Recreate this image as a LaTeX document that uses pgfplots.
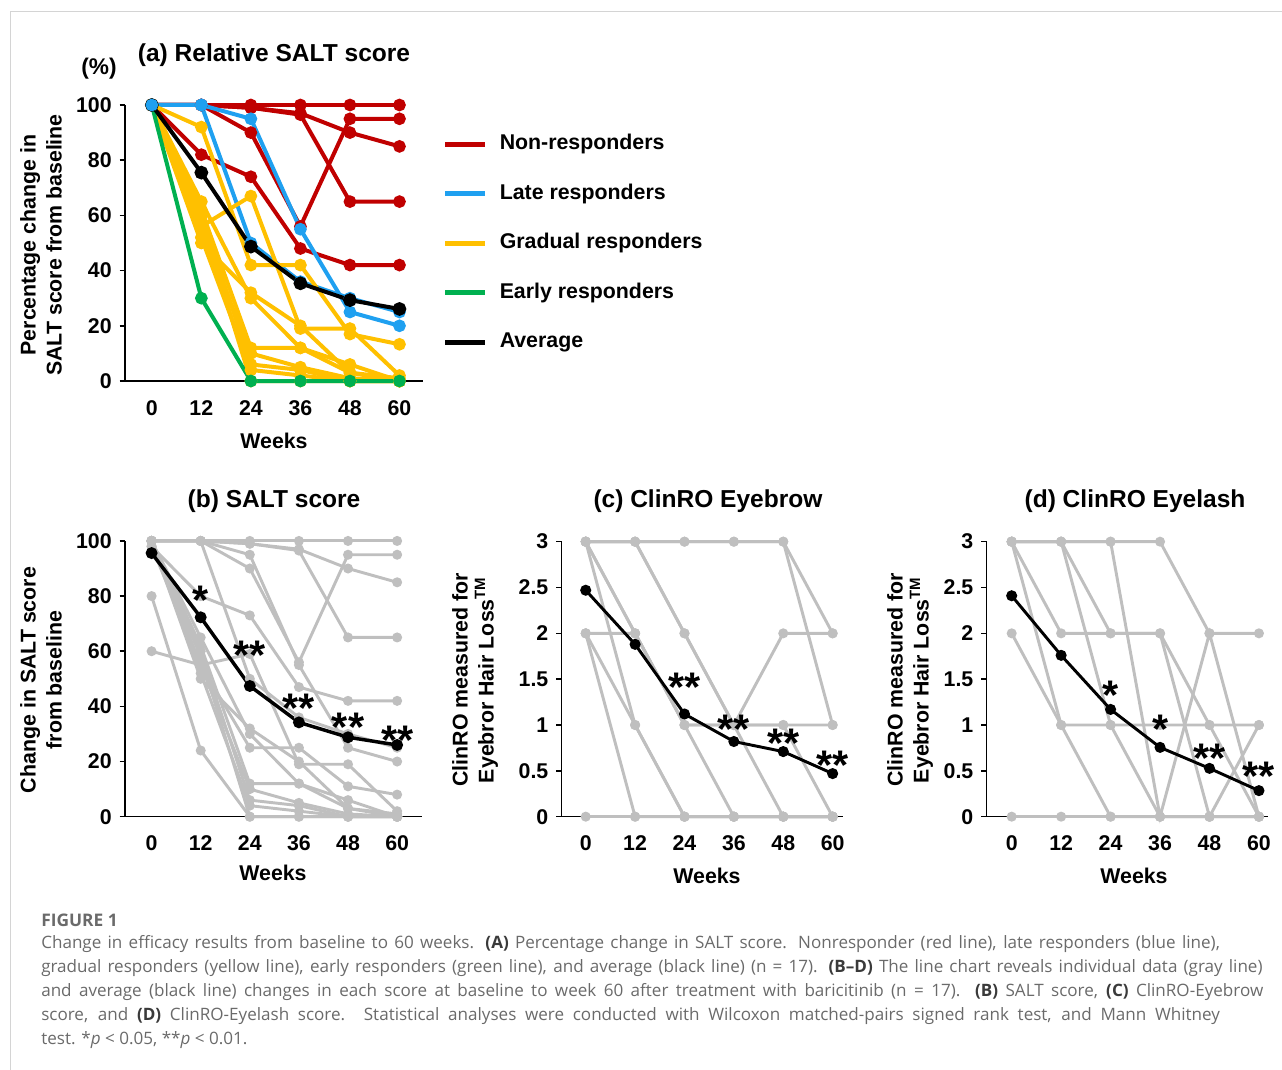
\documentclass[border=0pt]{standalone}
\usepackage{pgfplots}
\pgfplotsset{compat=1.18}
\usepackage{fontspec}
\setmainfont{Liberation Sans}
\newfontfamily\capfont{Open Sans}
\definecolor{cred}{HTML}{C00000}
\definecolor{cblue}{HTML}{1FA0F0}
\definecolor{cyellow}{HTML}{FFC000}
\definecolor{cgreen}{HTML}{00B050}
\definecolor{cgray}{HTML}{BFBFBF}
\definecolor{capgray}{HTML}{6A6A6A}
\definecolor{capdark}{HTML}{3A3A3A}
\definecolor{framegray}{HTML}{D4D4D4}

\pgfplotsset{
  panel/.style={set layers, scale only axis, clip=false,
    axis x line*=bottom, axis y line*=left,
    axis line style={line width=1.1pt, black},
    xtick={0,12,24,36,48,60}, xtick style={draw=none},
    ytick style={line width=1.1pt, black}, tick align=outside, major tick length=4pt,
    tick label style={font=\fontsize{16}{19}\selectfont\bfseries},
    /pgf/number format/assume math mode=true,
    xticklabel style={yshift=-7pt},
    yticklabel style={xshift=-2.5pt}},
  aline/.style={line width=3pt, mark=*, mark size=3.2pt, mark options={solid}, forget plot},
  gline/.style={color=cgray, line width=2.2pt, mark=*, mark size=2.6pt, mark options={solid}},
  bline/.style={color=black, line width=2.6pt, mark=*, mark size=3.1pt, mark options={solid}},
}
\tikzset{sigstar/.style={font=\fontsize{31}{31}\selectfont\bfseries, inner sep=0pt, anchor=center, yshift=-6.5pt},
  ttlnode/.style={font=\fontsize{18.4}{22}\selectfont\bfseries, inner sep=0pt},
  lblnode/.style={font=\fontsize{16}{19.5}\selectfont\bfseries, inner sep=0pt, align=center},
  captxt/.style={anchor=west, inner sep=0pt, text=capgray, font=\capfont\fontsize{12.8}{15}\selectfont}}
\newcommand{\B}[1]{\textcolor{capdark}{\bfseries #1}}

\begin{document}
\begin{tikzpicture}
\begin{scope}[x=0.75pt,y=-0.75pt]
\path[use as bounding box] (0,0) rectangle (1282,1070);
\draw[framegray, line width=0.75pt] (10,12) -- (1282,12);
\draw[framegray, line width=0.75pt] (10,12) -- (10,1070);
\end{scope}

% ---------------- (a) ----------------
\begin{axis}[panel, at={(93.75pt,-285.75pt)}, anchor=south west,
  width=223.5pt, height=207pt,
  xmin=-6.5, xmax=65.7, ymin=0, ymax=100, ytick={0,20,40,60,80,100},
  legend style={at={(axis description cs:1.0671,0.8975)}, anchor=north west,
    draw=none, fill=none, inner sep=0pt, outer sep=0pt, row sep=20.75pt,
    font=\fontsize{16}{19}\selectfont\bfseries,
    nodes={inner sep=0pt, text height=12pt, text depth=4pt}},
  legend cell align=left,
  legend image code/.code={\draw[line width=3.75pt] (0pt,0pt) -- (30pt,0pt); \path (0pt,-8pt) (40.5pt,8pt);}]
\addlegendimage{color=cred}
\addlegendimage{color=cblue}
\addlegendimage{color=cyellow}
\addlegendimage{color=cgreen}
\addlegendimage{color=black}
% non-responders
\addplot[aline, color=cred] coordinates {(0,100)(12,100)(24,100)(36,100)(48,100)(60,100)};
\addplot[aline, color=cred] coordinates {(0,100)(12,100)(24,99)(36,97)(48,90)(60,85)};
\addplot[aline, color=cred] coordinates {(0,100)(12,100)(24,99)(36,96.5)(48,65)(60,65)};
\addplot[aline, color=cred] coordinates {(0,100)(12,100)(24,90)(36,56)(48,95)(60,95)};
\addplot[aline, color=cred] coordinates {(0,100)(12,82)(24,74)(36,48)(48,42)(60,42)};
% late responders
\addplot[aline, color=cblue] coordinates {(0,100)(12,100)(24,95)(36,55)(48,25)(60,20)};
\addplot[aline, color=cblue] coordinates {(0,100)(12,100)(24,50)(36,36)(48,30)(60,25)};
% gradual responders
\addplot[aline, color=cyellow] coordinates {(0,100)(12,92)(24,42)(36,42)(48,17)(60,13.3)};
\addplot[aline, color=cyellow] coordinates {(0,100)(12,56)(24,67)(36,19)(48,19)(60,2)};
\addplot[aline, color=cyellow] coordinates {(0,100)(12,65)(24,30)(36,12)(48,6)(60,0)};
\addplot[aline, color=cyellow] coordinates {(0,100)(12,50)(24,32)(36,20)(48,3)(60,1)};
\addplot[aline, color=cyellow] coordinates {(0,100)(12,62)(24,12)(36,12)(48,3)(60,0)};
\addplot[aline, color=cyellow] coordinates {(0,100)(12,55)(24,10)(36,5)(48,1)(60,0)};
\addplot[aline, color=cyellow] coordinates {(0,100)(12,60)(24,6)(36,4)(48,0)(60,0)};
\addplot[aline, color=cyellow] coordinates {(0,100)(12,52)(24,4)(36,2)(48,0)(60,0)};
\addplot[aline, color=cyellow] coordinates {(0,100)(12,58)(24,0)(36,0)(48,0)(60,0)};
% early responders
\addplot[aline, color=cgreen] coordinates {(0,100)(12,30)(24,0)(36,0)(48,0)(60,0)};
% average
\addplot[aline, color=black, mark size=3.6pt] coordinates {(0,100)(12,75.5)(24,48.7)(36,35.4)(48,29.3)(60,26.1)};
% blue start point on top
\addplot[aline, color=cblue, only marks] coordinates {(0,100)(12,100)};
\legend{Non-responders, Late responders, Gradual responders, Early responders, Average}
\end{axis}

% ---------------- (b) ----------------
\begin{axis}[panel, at={(93.75pt,-612.5pt)}, anchor=south west,
  width=222.5pt, height=206.8pt,
  xmin=-6.5, xmax=66, ymin=0, ymax=100, ytick={0,20,40,60,80,100}]
\addplot[gline] coordinates {(0,100)(12,100)(24,100)(36,100)(48,100)(60,100)};
\addplot[gline] coordinates {(0,100)(12,100)(24,99)(36,97)(48,90)(60,85)};
\addplot[gline] coordinates {(0,100)(12,100)(24,99)(36,96.5)(48,65)(60,65)};
\addplot[gline] coordinates {(0,100)(12,100)(24,90)(36,56)(48,95)(60,95)};
\addplot[gline] coordinates {(0,98)(12,80)(24,73)(36,47)(48,42)(60,42)};
\addplot[gline] coordinates {(0,100)(12,100)(24,95)(36,55)(48,25)(60,20)};
\addplot[gline] coordinates {(0,100)(12,100)(24,50)(36,36)(48,30)(60,25)};
\addplot[gline] coordinates {(0,60)(12,55)(24,25)(36,25)(48,11)(60,8)};
\addplot[gline] coordinates {(0,98)(12,55)(24,59)(36,19)(48,19)(60,2)};
\addplot[gline] coordinates {(0,100)(12,65)(24,30)(36,12)(48,6)(60,0)};
\addplot[gline] coordinates {(0,100)(12,50)(24,32)(36,20)(48,3)(60,1)};
\addplot[gline] coordinates {(0,100)(12,62)(24,12)(36,12)(48,3)(60,0)};
\addplot[gline] coordinates {(0,100)(12,55)(24,10)(36,5)(48,1)(60,0)};
\addplot[gline] coordinates {(0,100)(12,60)(24,6)(36,4)(48,0)(60,0)};
\addplot[gline] coordinates {(0,100)(12,52)(24,4)(36,2)(48,0)(60,0)};
\addplot[gline] coordinates {(0,100)(12,58)(24,0)(36,0)(48,0)(60,0)};
\addplot[gline] coordinates {(0,80)(12,24)(24,0)(36,0)(48,0)(60,0)};
\addplot[bline] coordinates {(0,95.6)(12,72.3)(24,47.4)(36,34.2)(48,28.8)(60,26)};
\begin{pgfonlayer}{axis foreground}
\node[sigstar] at (axis cs:12,81.5) {*};
\node[sigstar] at (axis cs:24,61.5) {**};
\node[sigstar] at (axis cs:36,42.3) {**};
\node[sigstar] at (axis cs:48,35.5) {**};
\node[sigstar] at (axis cs:60,30.8) {**};
\end{pgfonlayer}
\end{axis}

% ---------------- (c) ----------------
\begin{axis}[panel, at={(421.3pt,-612.5pt)}, anchor=south west,
  width=211.2pt, height=206.25pt,
  xmin=-5.83, xmax=62.6, ymin=0, ymax=3, ytick={0,0.5,1,1.5,2,2.5,3}]
\addplot[gline] coordinates {(0,3)(12,3)(24,3)(36,3)(48,3)(60,2)};
\addplot[gline] coordinates {(0,3)(12,3)(24,3)(36,3)(48,3)(60,1)};
\addplot[gline] coordinates {(0,3)(12,3)(24,2)(36,1)(48,0)(60,0)};
\addplot[gline] coordinates {(0,3)(12,2)(24,1)(36,1)(48,1)(60,1)};
\addplot[gline] coordinates {(0,3)(12,1)(24,0)(36,0)(48,0)(60,0)};
\addplot[gline] coordinates {(0,2)(12,2)(24,1)(36,1)(48,2)(60,2)};
\addplot[gline] coordinates {(0,2)(12,1)(24,0)(36,0)(48,0)(60,0)};
\addplot[gline] coordinates {(0,2)(12,0)(24,0)(36,0)(48,0)(60,0)};
\addplot[gline] coordinates {(0,0)(12,0)(24,0)(36,0)(48,0)(60,0)};
\addplot[gline] coordinates {(0,3)(12,2)(24,1)(36,0)(48,0)(60,0)};
\addplot[gline] coordinates {(0,3)(12,3)(24,2)(36,1)(48,1)(60,0)};
\addplot[bline, line width=2.2pt, mark size=3pt] coordinates {(0,2.47)(12,1.88)(24,1.12)(36,0.82)(48,0.71)(60,0.47)};
\begin{pgfonlayer}{axis foreground}
\node[sigstar] at (axis cs:24,1.51) {**};
\node[sigstar] at (axis cs:36,1.05) {**};
\node[sigstar] at (axis cs:48,0.90) {**};
\node[sigstar] at (axis cs:60,0.66) {**};
\end{pgfonlayer}
\end{axis}

% ---------------- (d) ----------------
\begin{axis}[panel, at={(740pt,-612.5pt)}, anchor=south west,
  width=211pt, height=206.25pt,
  xmin=-6.07, xmax=62.2, ymin=0, ymax=3, ytick={0,0.5,1,1.5,2,2.5,3}]
\addplot[gline] coordinates {(0,3)(12,3)(24,3)(36,3)(48,2)(60,2)};
\addplot[gline] coordinates {(0,3)(12,3)(24,3)(36,0)(48,2)(60,0)};
\addplot[gline] coordinates {(0,3)(12,3)(24,2)(36,2)(48,1)(60,1)};
\addplot[gline] coordinates {(0,3)(12,3)(24,1)(36,0)(48,0)(60,1)};
\addplot[gline] coordinates {(0,3)(12,1)(24,1)(36,1)(48,1)(60,0)};
\addplot[gline] coordinates {(0,2)(12,1)(24,0)(36,0)(48,0)(60,0)};
\addplot[gline] coordinates {(0,0)(12,0)(24,0)(36,0)(48,0)(60,0)};
\addplot[gline] coordinates {(0,3)(12,2)(24,2)(36,2)(48,0)(60,0)};
\addplot[bline, line width=2.2pt, mark size=3pt] coordinates {(0,2.41)(12,1.76)(24,1.17)(36,0.756)(48,0.527)(60,0.284)};
\begin{pgfonlayer}{axis foreground}
\node[sigstar] at (axis cs:24,1.42) {*};
\node[sigstar] at (axis cs:36,1.05) {*};
\node[sigstar] at (axis cs:48,0.73) {**};
\node[sigstar] at (axis cs:60,0.53) {**};
\end{pgfonlayer}
\end{axis}

% ---------------- texts ----------------
\begin{scope}[x=0.75pt,y=-0.75pt]
\node[ttlnode] at (274,55) {(a) Relative SALT score};
\node[ttlnode] at (274,501) {(b) SALT score};
\node[ttlnode] at (708,501) {(c) ClinRO Eyebrow};
\node[ttlnode] at (1135,501) {(d) ClinRO Eyelash};
\node[lblnode, font=\fontsize{17}{20}\selectfont\bfseries] at (99,69) {(\%)};
\node[lblnode, rotate=90] at (41,245) {Percentage change in\\SALT score from baseline};
\node[lblnode, rotate=90] at (41,680) {Change in SALT score\\from baseline};
\node[lblnode, rotate=90] at (475,680) {ClinRO measured for\\Eyebror Hair Loss\textsuperscript{TM}};
\node[lblnode, rotate=90] at (910,680) {ClinRO measured for\\Eyebror Hair Loss\textsuperscript{TM}};
\node[lblnode] at (274,441) {Weeks};
\node[lblnode] at (273,873) {Weeks};
\node[lblnode] at (707,876) {Weeks};
\node[lblnode] at (1134,876) {Weeks};
% caption
\node[captxt, font=\capfont\fontsize{13}{15}\selectfont\bfseries, text=capgray] at (41,920) {FIGURE 1};
\node[captxt] at (41,944) {\makebox[884pt][s]{Change in efficacy results from baseline to 60 weeks. \B{(A)} Percentage change in SALT score. Nonresponder (red line), late responders (blue line),}};
\node[captxt] at (41,968) {\makebox[916pt][s]{gradual responders (yellow line), early responders (green line), and average (black line) (n = 17). \B{(B–D)} The line chart reveals individual data (gray line)}};
\node[captxt] at (41,992) {\makebox[916.5pt][s]{and average (black line) changes in each score at baseline to week 60 after treatment with baricitinib (n = 17). \B{(B)} SALT score, \B{(C)} ClinRO-Eyebrow}};
\node[captxt] at (41,1016) {\makebox[884pt][s]{score, and \B{(D)} ClinRO-Eyelash score. Statistical analyses were conducted with Wilcoxon matched-pairs signed rank test, and Mann Whitney}};
\node[captxt] at (41,1040) {test. *\textit{p} < 0.05, **\textit{p} < 0.01.};
\end{scope}
\end{tikzpicture}
\end{document}
